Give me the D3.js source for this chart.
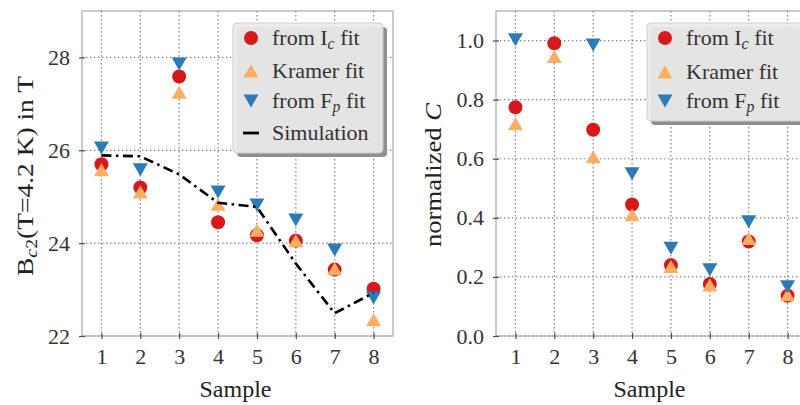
<!DOCTYPE html>
<html><head><meta charset="utf-8">
<script src="https://cdn.jsdelivr.net/npm/d3@7"></script>
<style>
html,body{margin:0;padding:0;background:#fff;}
svg{display:block;}
</style></head>
<body>
<svg id="c" width="800" height="405"></svg>
<script>
const samples = [1, 2, 3, 4, 5, 6, 7, 8];
const xTicks = [1, 2, 3, 4, 5, 6, 7, 8];
const bc2Ticks = [22, 24, 26, 28];
const cTicks = [0.0, 0.2, 0.4, 0.6, 0.8, 1.0];

const bc2Ic     = [25.70, 25.20, 27.59, 24.45, 24.17, 24.05, 23.43, 23.02];
const bc2Kramer = [25.58, 25.10, 27.25, 24.84, 24.28, 24.05, 23.45, 22.35];
const bc2Fp     = [26.05, 25.58, 27.86, 25.10, 24.82, 24.50, 23.85, 22.82];
const bc2Sim    = [25.89, 25.87, 25.48, 24.87, 24.78, 23.56, 22.49, 22.93];

const cIc     = [0.774, 0.991, 0.698, 0.445, 0.240, 0.176, 0.320, 0.136];
const cKramer = [0.718, 0.946, 0.607, 0.410, 0.235, 0.173, 0.330, 0.140];
const cFp     = [1.003, null, 0.985, 0.549, 0.297, 0.224, 0.387, 0.167];

const RED = "#d7191c", ORANGE = "#fdae61", BLUE = "#2c7bb6";
const FONT = '"Liberation Serif", "Times New Roman", serif';
const svg = d3.select("#c");

function sub(textSel, parts) {
  parts.forEach(p => {
    const ts = textSel.append("tspan").text(p.t).style("font-family", FONT);
    if (p.italic) ts.style("font-style", "italic");
    if (p.sub) ts.style("font-size", "0.72em").attr("baseline-shift", "-22%");
  });
}

function panel(opts) {
  const g = svg.append("g");
  const x = d3.scaleLinear().domain([0.5, 8.5]).range([opts.left, opts.right]);
  const y = d3.scaleLinear().domain(opts.ydom).range([336, 11]);

  const grid = g.append("g");
  grid.selectAll(".gx").data(xTicks).join("line")
    .attr("x1", d => x(d)).attr("x2", d => x(d)).attr("y1", 11).attr("y2", 336)
    .attr("stroke", "#808080").attr("stroke-width", 1.2).attr("stroke-dasharray", "1.4,2.6");
  grid.selectAll(".gy").data(opts.yticks).join("line")
    .attr("x1", opts.left).attr("x2", opts.right).attr("y1", d => y(d)).attr("y2", d => y(d))
    .attr("stroke", "#808080").attr("stroke-width", 1.2).attr("stroke-dasharray", "1.4,2.6");

  g.append("rect").attr("x", opts.left).attr("y", 11)
    .attr("width", opts.right - opts.left).attr("height", 325)
    .attr("fill", "none").attr("stroke", "#a8a8a8").attr("stroke-width", 1.2);

  const ax = g.append("g").attr("transform", "translate(0,336)")
    .call(d3.axisBottom(x).tickValues(xTicks).tickFormat(d3.format("d")).tickSize(3).tickPadding(9));
  ax.select(".domain").remove();
  ax.selectAll(".tick line").attr("y1", -3).attr("stroke", "#4d4d4d").attr("stroke-width", 1.2);
  ax.selectAll(".tick text").style("font-size", "22px").style("fill", "#333").style("font-family", FONT);

  const ay = g.append("g").attr("transform", `translate(${opts.left},0)`)
    .call(d3.axisLeft(y).tickValues(opts.yticks).tickFormat(opts.fmt).tickSize(3).tickPadding(9));
  ay.select(".domain").remove();
  ay.selectAll(".tick line").attr("x1", 3).attr("stroke", "#4d4d4d").attr("stroke-width", 1.2);
  ay.selectAll(".tick text").style("font-size", "22px").style("fill", "#333").style("font-family", FONT);

  g.append("text").attr("x", (opts.left + opts.right) / 2 - 2).attr("y", 397)
    .attr("text-anchor", "middle").style("font-size", "23px").style("font-family", FONT)
    .attr("textLength", 72).attr("lengthAdjust", "spacingAndGlyphs")
    .style("fill", "#222").text("Sample");

  const clip = "clip" + opts.left;
  svg.append("clipPath").attr("id", clip).append("rect")
    .attr("x", opts.left - 10).attr("y", 0).attr("width", opts.right - opts.left + 20).attr("height", 350);
  const m = g.append("g").attr("clip-path", `url(#${clip})`);

  const pts = arr => samples.map((s, i) => ({s, v: arr[i]})).filter(d => d.v != null);
  m.selectAll(".ic").data(pts(opts.ic)).join("circle")
    .attr("cx", d => x(d.s)).attr("cy", d => y(d.v)).attr("r", 7).attr("fill", RED);
  const up = "M0,-6.5L7.5,6.5L-7.5,6.5Z", down = "M0,6.5L7.5,-6.5L-7.5,-6.5Z";
  m.selectAll(".kr").data(pts(opts.kr)).join("path")
    .attr("d", up).attr("transform", d => `translate(${x(d.s)},${y(d.v)})`).attr("fill", ORANGE);
  m.selectAll(".fp").data(pts(opts.fp)).join("path")
    .attr("d", down).attr("transform", d => `translate(${x(d.s)},${y(d.v)})`).attr("fill", BLUE);
  if (opts.sim) {
    m.append("path").datum(pts(opts.sim))
      .attr("d", d3.line().x(d => x(d.s)).y(d => y(d.v)))
      .attr("fill", "none").attr("stroke", "#000").attr("stroke-width", 2.6)
      .attr("stroke-dasharray", "10,4.5,2.5,4.5");
  }
  return {g, x, y};
}

panel({left: 82, right: 393, ydom: [22, 29], yticks: bc2Ticks, fmt: d3.format("d"),
  ic: bc2Ic, kr: bc2Kramer, fp: bc2Fp, sim: bc2Sim});
panel({left: 496, right: 807, ydom: [0, 1.1], yticks: cTicks, fmt: d3.format(".1f"),
  ic: cIc, kr: cKramer, fp: cFp, sim: null});

const yl = svg.append("text").attr("transform", "translate(33,176) rotate(-90)")
  .attr("text-anchor", "middle").style("font-size", "23px").style("font-family", FONT).style("fill", "#222")
  .attr("textLength", 200).attr("lengthAdjust", "spacingAndGlyphs");
sub(yl, [{t: "B"}, {t: "c", sub: true, italic: true}, {t: "2", sub: true}, {t: "(T=4.2 K) in T"}]);
const yr = svg.append("text").attr("transform", "translate(441,175) rotate(-90)")
  .attr("text-anchor", "middle").style("font-size", "23px").style("font-family", FONT).style("fill", "#222")
  .attr("textLength", 144).attr("lengthAdjust", "spacingAndGlyphs");
sub(yr, [{t: "normalized "}, {t: "C", italic: true}]);

function legend(x0, y0, w, h, rows) {
  const g = svg.append("g");
  g.append("rect").attr("x", x0 + 4).attr("y", y0 + 4).attr("width", w).attr("height", h)
    .attr("rx", 4).attr("fill", "#8f8f8f");
  g.append("rect").attr("x", x0).attr("y", y0).attr("width", w).attr("height", h)
    .attr("rx", 4).attr("fill", "#ebebeb").attr("fill-opacity", 0.93)
    .attr("stroke", "#cfcfcf").attr("stroke-width", 1);
  rows.forEach(r => {
    const mx = x0 + 18, my = r.y;
    if (r.type === "c") g.append("circle").attr("cx", mx).attr("cy", my).attr("r", 7).attr("fill", RED);
    if (r.type === "u") g.append("path").attr("d", "M0,-6.5L7.5,6.5L-7.5,6.5Z").attr("transform", `translate(${mx},${my})`).attr("fill", ORANGE);
    if (r.type === "d") g.append("path").attr("d", "M0,6.5L7.5,-6.5L-7.5,-6.5Z").attr("transform", `translate(${mx},${my})`).attr("fill", BLUE);
    if (r.type === "l") g.append("line").attr("x1", mx - 8).attr("x2", mx + 8).attr("y1", my).attr("y2", my).attr("stroke", "#000").attr("stroke-width", 2.8);
    const t = g.append("text").attr("x", x0 + 39).attr("y", my + 7)
      .style("font-size", "22px").style("font-family", FONT).style("fill", "#333");
    sub(t, r.parts);
  });
}
const legRows = [
  {type: "c", parts: [{t: "from I"}, {t: "c", sub: true, italic: true}, {t: " fit"}]},
  {type: "u", parts: [{t: "Kramer fit"}]},
  {type: "d", parts: [{t: "from F"}, {t: "p", sub: true, italic: true}, {t: " fit"}]},
  {type: "l", parts: [{t: "Simulation"}]}
];
const ly = [38, 71, 101, 133];
legend(233, 23, 150, 130, legRows.map((r, i) => Object.assign({}, r, {y: ly[i]})));
const ry = [38, 72, 101];
legend(647, 23, 160, 98, legRows.slice(0, 3).map((r, i) => Object.assign({}, r, {y: ry[i]})));
</script>
</body></html>
